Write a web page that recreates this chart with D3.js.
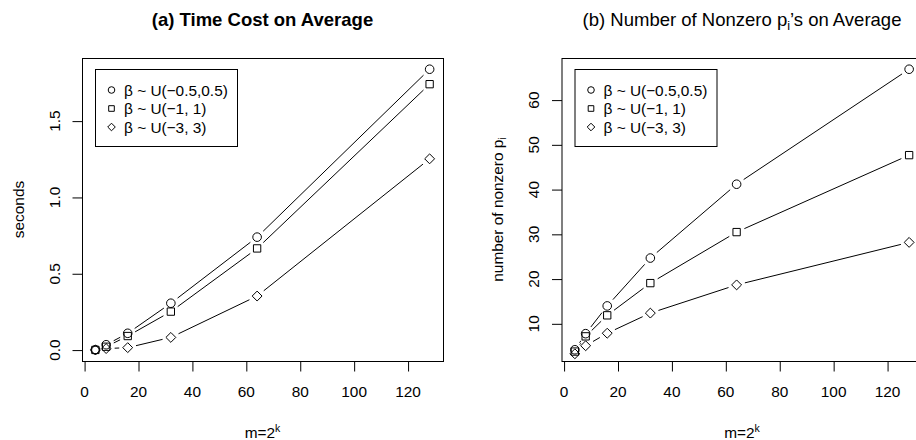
<!DOCTYPE html>
<html>
<head>
<meta charset="utf-8">
<script src="https://cdn.jsdelivr.net/npm/d3@7"></script>
<style>
  body { margin: 0; background: #fff; }
  svg text { font-family: 'Liberation Sans', Arial, Helvetica, sans-serif; fill: #000; }
</style>
</head>
<body>
<div id="chart"></div>
<script>
const chartWidth = 916
const chartHeight = 440
const fontSize = 15.4

// x 軸 m = 2^k
const mValues = [4, 8, 16, 32, 64, 128]

// (a) 平均時間 (seconds)
const timeSmall = [0.002, 0.035, 0.11, 0.307, 0.74, 1.84]
const timeMid = [0.001, 0.022, 0.092, 0.252, 0.666, 1.742]
const timeLarge = [0.001, 0.01, 0.016, 0.083, 0.354, 1.253]

// (b) 平均非零 p_i 數量
const nzSmall = [4.2, 7.8, 14.0, 24.7, 41.2, 66.9]
const nzMid = [3.8, 7.2, 11.9, 19.1, 30.5, 47.7]
const nzLarge = [3.3, 5.1, 7.9, 12.4, 18.7, 28.2]

const xTicks = [0, 20, 40, 60, 80, 100, 120]
const timeTicks = [0, 0.5, 1.0, 1.5]
const nzTicks = [10, 20, 30, 40, 50, 60]

const legendLabels = ['β ~ U(−0.5,0.5)', 'β ~ U(−1, 1)', 'β ~ U(−3, 3)']
const shapes = ['circle', 'square', 'diamond']

const svg = d3
  .select('#chart')
  .append('svg')
  .attr('width', chartWidth)
  .attr('height', chartHeight)

// R 預設的 4% 範圍擴張
function padDomain(vals) {
  const lo = d3.min(vals)
  const hi = d3.max(vals)
  const pad = (hi - lo) * 0.04
  return [lo - pad, hi + pad]
}

function symbolPath(shape, size) {
  if (shape === 'circle') return d3.symbol(d3.symbolCircle, Math.PI * size * size)()
  if (shape === 'square') return d3.symbol(d3.symbolSquare, size * size * 2.9)()
  return `M0,${-size * 1.15}L${size * 1.15},0L0,${size * 1.15}L${-size * 1.15},0Z`
}

function drawPanel(opt) {
  const { left, right, top, bottom } = opt
  const g = svg.append('g')

  const x = d3.scaleLinear().domain(padDomain(mValues)).range([left, right])
  // y 軸範圍由第一組資料決定 (plot 先畫第一組, 其餘用 lines 加上)
  const y = d3.scaleLinear().domain(padDomain(opt.series[0])).range([bottom, top])

  // 外框
  g.append('rect')
    .attr('x', left + 0.5)
    .attr('y', top + 0.5)
    .attr('width', right - left)
    .attr('height', bottom - top)
    .attr('fill', 'none')
    .attr('stroke', '#000')

  // x 軸
  const xAxis = g.append('g').attr('transform', `translate(0.5,${bottom + 0.5})`)
  xAxis.append('line')
    .attr('x1', x(xTicks[0]))
    .attr('x2', x(xTicks[xTicks.length - 1]))
    .attr('stroke', '#000')
  xAxis.selectAll('.tick')
    .data(xTicks)
    .enter()
    .append('line')
    .attr('x1', d => x(d))
    .attr('x2', d => x(d))
    .attr('y2', 10)
    .attr('stroke', '#000')
  g.selectAll('.xlab')
    .data(xTicks)
    .enter()
    .append('text')
    .attr('x', d => x(d))
    .attr('y', 396.5)
    .attr('text-anchor', 'middle')
    .style('font-size', fontSize + 'px')
    .text(d => d)

  // y 軸
  const yAxis = g.append('g').attr('transform', `translate(${left + 0.5},0.5)`)
  yAxis.selectAll('.tick')
    .data(opt.yTicks)
    .enter()
    .append('line')
    .attr('y1', d => y(d))
    .attr('y2', d => y(d))
    .attr('x2', -10)
    .attr('stroke', '#000')
  g.selectAll('.ylab')
    .data(opt.yTicks)
    .enter()
    .append('text')
    .attr('transform', d => `translate(${left - 22.5},${y(d)}) rotate(-90)`)
    .attr('text-anchor', 'middle')
    .style('font-size', fontSize + 'px')
    .text(opt.yFormat)

  // 標題
  const title = g.append('text')
    .attr('x', (left + right) / 2)
    .attr('y', 26)
    .attr('text-anchor', 'middle')
    .style('font-size', '18.5px')
    .style('font-weight', opt.bold ? 'bold' : 'normal')
  opt.title(title)

  // x 軸標題
  const xt = g.append('text')
    .attr('x', (left + right) / 2)
    .attr('y', 438)
    .attr('text-anchor', 'middle')
    .style('font-size', fontSize + 'px')
  xt.append('tspan').text('m=2')
  xt.append('tspan').attr('dy', -6).style('font-size', '10.5px').text('k')

  // y 軸標題
  const yt = g.append('text')
    .attr('transform', `translate(${left - 58.5},${(top + bottom) / 2}) rotate(-90)`)
    .attr('text-anchor', 'middle')
    .style('font-size', fontSize + 'px')
  opt.yTitle(yt)

  // type = "b": 線段在點附近留空
  const gap = 8.5
  opt.series.forEach((vals, si) => {
    const pts = mValues.map((m, i) => [x(m), y(vals[i])])
    for (let i = 0; i < pts.length - 1; i++) {
      const [x1, y1] = pts[i]
      const [x2, y2] = pts[i + 1]
      const len = Math.hypot(x2 - x1, y2 - y1)
      if (len <= gap * 2) continue
      const ux = (x2 - x1) / len
      const uy = (y2 - y1) / len
      g.append('line')
        .attr('x1', x1 + ux * gap)
        .attr('y1', y1 + uy * gap)
        .attr('x2', x2 - ux * gap)
        .attr('y2', y2 - uy * gap)
        .attr('stroke', '#000')
        .attr('stroke-width', 1)
    }
    g.selectAll(`.pt${si}`)
      .data(pts)
      .enter()
      .append('path')
      .attr('d', symbolPath(shapes[si], 4.3))
      .attr('transform', d => `translate(${d[0]},${d[1]})`)
      .attr('fill', 'none')
      .attr('stroke', '#000')
      .attr('stroke-width', 1)
  })

  // 圖例
  const lx = left + 13.5
  const ly = 69.5
  const legend = g.append('g').attr('transform', `translate(${lx},${ly})`)
  legend.append('rect')
    .attr('width', 142)
    .attr('height', 77)
    .attr('fill', '#fff')
    .attr('stroke', '#000')
  legend.selectAll('path')
    .data(legendLabels)
    .enter()
    .append('path')
    .attr('d', (d, i) => symbolPath(shapes[i], 3.3))
    .attr('transform', (d, i) => `translate(16,${20.5 + i * 18.5})`)
    .attr('fill', 'none')
    .attr('stroke', '#000')
  legend.selectAll('text')
    .data(legendLabels)
    .enter()
    .append('text')
    .attr('x', 28.5)
    .attr('y', (d, i) => 26 + i * 18.5)
    .style('font-size', fontSize + 'px')
    .text(d => d)
}

drawPanel({
  left: 82,
  right: 443,
  top: 58,
  bottom: 361,
  series: [timeSmall, timeMid, timeLarge],
  yTicks: timeTicks,
  yFormat: d => d3.format('.1f')(d),
  bold: true,
  title: t => t.text('(a) Time Cost on Average'),
  yTitle: t => t.text('seconds'),
})

drawPanel({
  left: 561.5,
  right: 922.5,
  top: 58,
  bottom: 361,
  series: [nzSmall, nzMid, nzLarge],
  yTicks: nzTicks,
  yFormat: d => d,
  bold: false,
  title: t => {
    t.append('tspan').text('(b) Number of Nonzero p')
    t.append('tspan').attr('dy', 4).style('font-size', '12.5px').text('i')
    t.append('tspan').attr('dy', -4).text('’s on Average')
  },
  yTitle: t => {
    t.append('tspan').text('number of nonzero p')
    t.append('tspan').attr('dy', 3).style('font-size', '10.5px').text('i')
  },
})
</script>
</body>
</html>
